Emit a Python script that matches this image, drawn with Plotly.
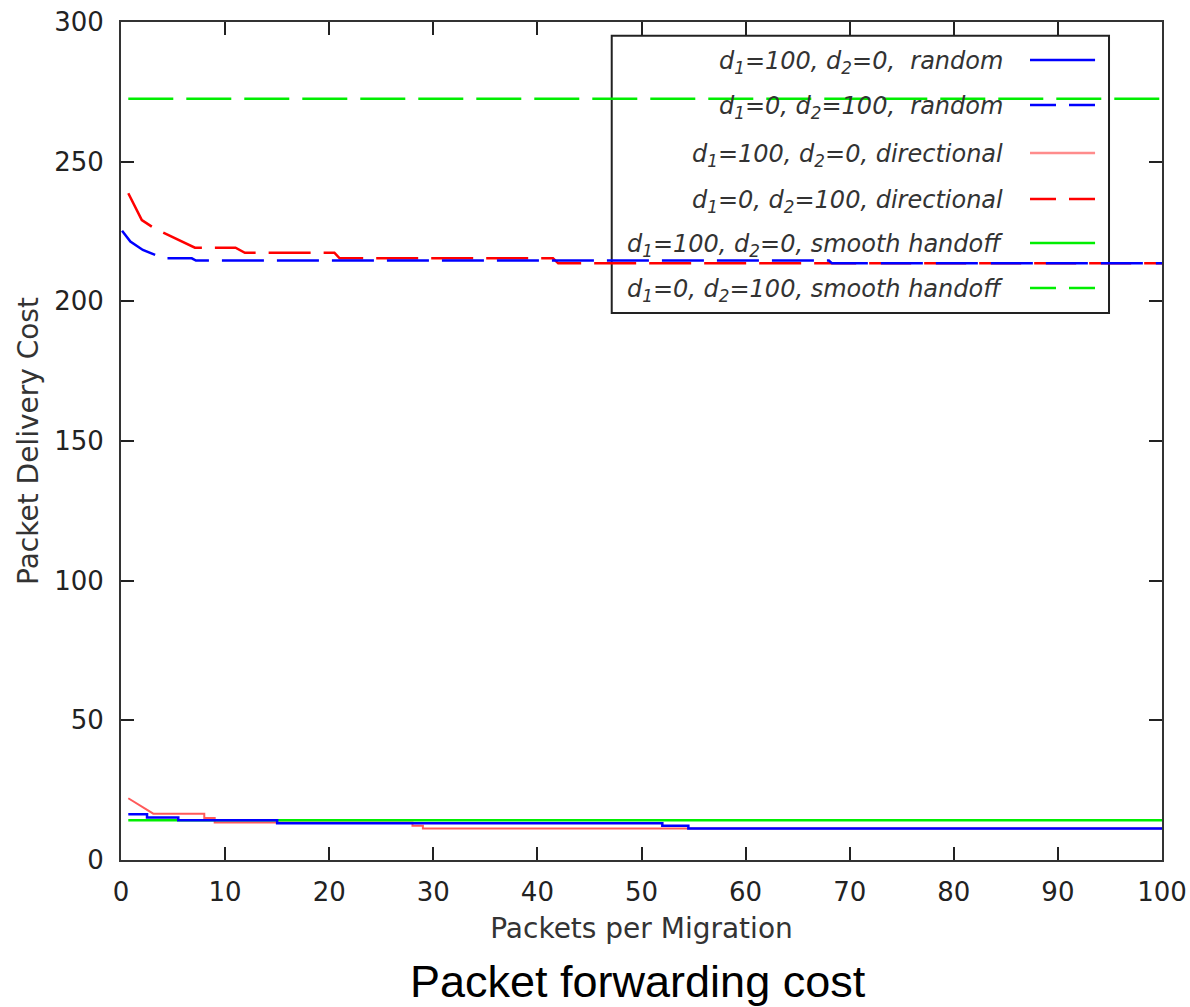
import plotly.graph_objects as go

# ---------------- data ----------------
# d1=100, d2=0, random  (blue solid, step)
rand1_x = [0.7, 2.5, 5.5, 15, 52, 54.5, 100]
rand1_y = [16.4, 15.2, 14.2, 13.2, 12.3, 11.3, 11.3]

# d1=0, d2=100, random  (blue dashed)
rand2_x = [0.1, 0.9, 2.1, 4.1, 6.8, 7.2, 68, 68.3, 100]
rand2_y = [225.3, 221.4, 218.4, 215.4, 215.4, 214.6, 214.6, 213.6, 213.6]

# d1=100, d2=0, directional  (pink solid)
dir1_x = [0.7, 3.1, 8, 8, 9, 9, 28, 28, 29, 29, 100]
dir1_y = [22.1, 16.6, 16.6, 15.0, 15.0, 13.4, 13.4, 12.3, 12.3, 11.3, 11.3]

# d1=0, d2=100, directional  (red dashed)
dir2_x = [0.7, 2.0, 3.3, 5.3, 7.1, 11.0, 11.9, 20.5, 21, 41.5, 42, 100]
dir2_y = [238.7, 229.1, 225.9, 222.3, 219.2, 219.2, 217.4, 217.4, 215.4, 215.4, 213.6, 213.6]

# d1=100, d2=0, smooth handoff (green solid)
sh1_x = [0.7, 100]
sh1_y = [14.2, 14.2]

# d1=0, d2=100, smooth handoff (green dashed)
sh2_x = [0.7, 100]
sh2_y = [272.5, 272.5]

x_ticks = [0, 10, 20, 30, 40, 50, 60, 70, 80, 90, 100]
y_ticks = [0, 50, 100, 150, 200, 250, 300]

legend_labels = [
    "d<sub>1</sub>=100, d<sub>2</sub>=0,  random",
    "d<sub>1</sub>=0, d<sub>2</sub>=100,  random",
    "d<sub>1</sub>=100, d<sub>2</sub>=0, directional",
    "d<sub>1</sub>=0, d<sub>2</sub>=100, directional",
    "d<sub>1</sub>=100, d<sub>2</sub>=0, smooth handoff",
    "d<sub>1</sub>=0, d<sub>2</sub>=100, smooth handoff",
]
legend_colors = ["#0000ff", "#0000ff", "#ff8c8c", "#ff0000", "#00ee00", "#00ee00"]
legend_dashes = ["solid", "dash", "solid", "dash", "solid", "dash"]

BLUE, RED, PINK, GREEN = "#0000ff", "#ff0000", "#ff5a5a", "#00ee00"
DASH = "42px,13px"

fig = go.Figure()
fig.add_trace(go.Scatter(x=sh2_x, y=sh2_y, mode="lines",
                         line=dict(color=GREEN, width=2.5, dash="45px,13px")))
fig.add_trace(go.Scatter(x=dir1_x, y=dir1_y, mode="lines",
                         line=dict(color=PINK, width=2)))
fig.add_trace(go.Scatter(x=sh1_x, y=sh1_y, mode="lines",
                         line=dict(color=GREEN, width=2.5)))
fig.add_trace(go.Scatter(x=rand1_x, y=rand1_y, mode="lines", line_shape="hv",
                         line=dict(color=BLUE, width=2.5)))
fig.add_trace(go.Scatter(x=dir2_x, y=dir2_y, mode="lines",
                         line=dict(color=RED, width=2.5, dash=DASH)))
fig.add_trace(go.Scatter(x=rand2_x, y=rand2_y, mode="lines",
                         line=dict(color=BLUE, width=2.5, dash=DASH)))

# ---------------- custom legend (text left, sample right) ----------------
box_x0, box_x1 = 0.4714, 0.9491
box_y0, box_y1 = 0.6527, 0.9837
row_y = [0.9547, 0.9010, 0.8437, 0.7888, 0.7363, 0.6826]
text_right = 0.8495
samp_x0, samp_x1 = 0.8732, 0.9357

shapes = [dict(type="rect", xref="paper", yref="paper",
               x0=box_x0, x1=box_x1, y0=box_y0, y1=box_y1,
               line=dict(color="#222222", width=2), layer="below")]
annotations = []
for lbl, col, dsh, ry in zip(legend_labels, legend_colors, legend_dashes, row_y):
    annotations.append(dict(xref="paper", yref="paper", x=text_right, y=ry,
                            text="<i>" + lbl + "</i>", showarrow=False,
                            xanchor="right", yanchor="middle", yshift=-3,
                            font=dict(family="DejaVu Sans", size=24, color="#333333")))
    shapes.append(dict(type="line", xref="paper", yref="paper",
                       x0=samp_x0, x1=samp_x1, y0=ry, y1=ry,
                       line=dict(color=col, width=2.5,
                                 dash=("solid" if dsh == "solid" else "26px,13px"))))

annotations.append(dict(xref="paper", yref="paper", x=0.497, y=-0.145,
                        text="Packet forwarding cost", showarrow=False,
                        xanchor="center", yanchor="middle",
                        font=dict(family="Liberation Sans", size=45, color="#000000")))

axis_common = dict(showline=True, linecolor="#333333", linewidth=2, mirror="ticks",
                   ticks="inside", ticklen=13, tickwidth=2, tickcolor="#222222",
                   showgrid=False, zeroline=False, automargin=False,
                   tickfont=dict(family="DejaVu Sans", size=26, color="#222222"))

fig.update_layout(
    width=1190, height=1007,
    margin=dict(l=121, r=28, t=22, b=147),
    paper_bgcolor="white", plot_bgcolor="white",
    showlegend=False,
    xaxis=dict(range=[0, 100], tickvals=x_ticks,
               title=dict(text="Packets per Migration", standoff=12,
                          font=dict(family="DejaVu Sans", size=28, color="#333333")),
               ticklabelstandoff=8, **axis_common),
    yaxis=dict(range=[0, 300], tickvals=y_ticks,
               title=dict(text="Packet Delivery Cost", standoff=7,
                          font=dict(family="DejaVu Sans", size=28, color="#333333")),
               ticklabelstandoff=10, **axis_common),
    shapes=shapes, annotations=annotations,
)

fig.write_html(
    "out.html",
    config=dict(displayModeBar=False),
    post_script=(
        "document.body.style.margin='0';document.body.style.padding='0';"
        "document.body.style.overflow='hidden';"
    ),
)
